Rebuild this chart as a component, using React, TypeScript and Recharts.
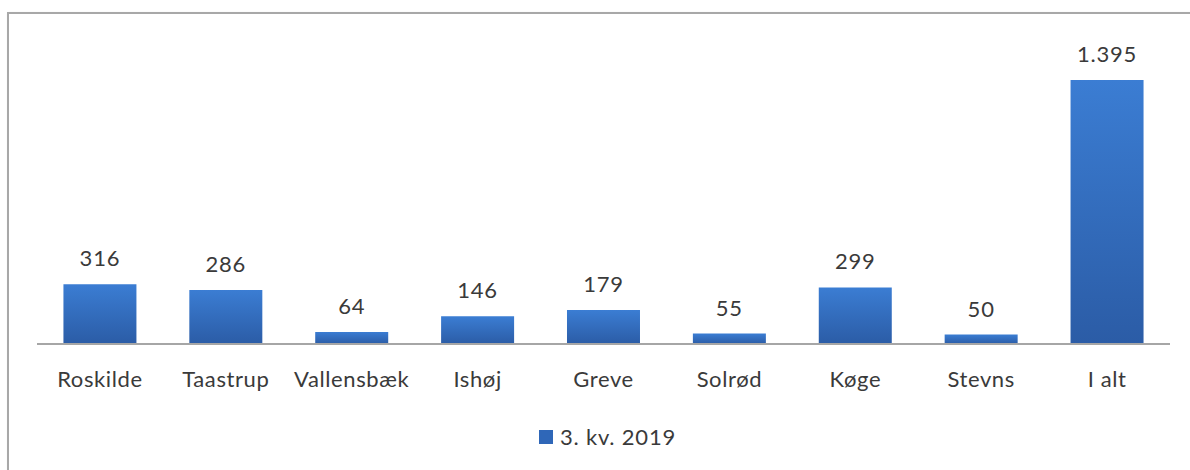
import { BarChart, Bar, XAxis, YAxis, LabelList } from "recharts";

const kommuner = ["Roskilde", "Taastrup", "Vallensbæk", "Ishøj", "Greve", "Solrød", "Køge", "Stevns", "I alt"];
const kv3_2019 = [316, 286, 64, 146, 179, 55, 299, 50, 1395];
const seriesName = "3. kv. 2019";

const data = kommuner.map((name, i) => ({ name, value: kv3_2019[i] }));

const textColor = "#3a3a3a";
const font = "Lato, 'Noto Sans', sans-serif";

const fmt = (v: number) => v.toLocaleString("da-DK");

export default function App() {
  return (
    <div style={{ position: "absolute", left: 0, top: 0, width: 1190, height: 470, overflow: "hidden", background: "#fff" }}>
      <div
        style={{
          position: "absolute",
          left: 7,
          top: 12,
          width: 1220,
          height: 520,
          border: "2px solid #a8a8a8",
          boxShadow: "1px 1px 2px #d0d0d0",
        }}
      />
      <BarChart
        width={1190}
        height={470}
        data={data}
        margin={{ top: 80, right: 20, left: 37, bottom: 76 }}
        barCategoryGap="21%"
        style={{ position: "absolute", left: 0, top: 0, fontFamily: font }}
      >
        <defs>
          <linearGradient id="barFill" x1="0" y1="0" x2="0" y2="1">
            <stop offset="0%" stopColor="#3b7dd3" />
            <stop offset="100%" stopColor="#2b5ca6" />
          </linearGradient>
        </defs>
        <XAxis
          dataKey="name"
          height={50}
          interval={0}
          tickLine={false}
          tickMargin={21}
          axisLine={{ stroke: "#a6a6a6", strokeWidth: 2 }}
          tick={{ fill: textColor, fontSize: 22, fontFamily: font, letterSpacing: 0.6 }}
        />
        <YAxis hide domain={[0, "dataMax"]} />
        <Bar dataKey="value" name={seriesName} fill="url(#barFill)" isAnimationActive={false}>
          <LabelList
            dataKey="value"
            position="top"
            offset={18}
            formatter={(v: number) => fmt(v)}
            style={{ fill: textColor, fontSize: 22, fontFamily: font, letterSpacing: 0.8 }}
          />
        </Bar>
      </BarChart>
      <div
        style={{
          position: "absolute",
          left: 539,
          top: 423,
          display: "flex",
          alignItems: "center",
          fontFamily: font,
          fontSize: 22,
          letterSpacing: 0.8,
          color: textColor,
        }}
      >
        <span style={{ width: 14, height: 14, background: "#2f67b8", marginRight: 7, display: "inline-block" }} />
        {seriesName}
      </div>
    </div>
  );
}
